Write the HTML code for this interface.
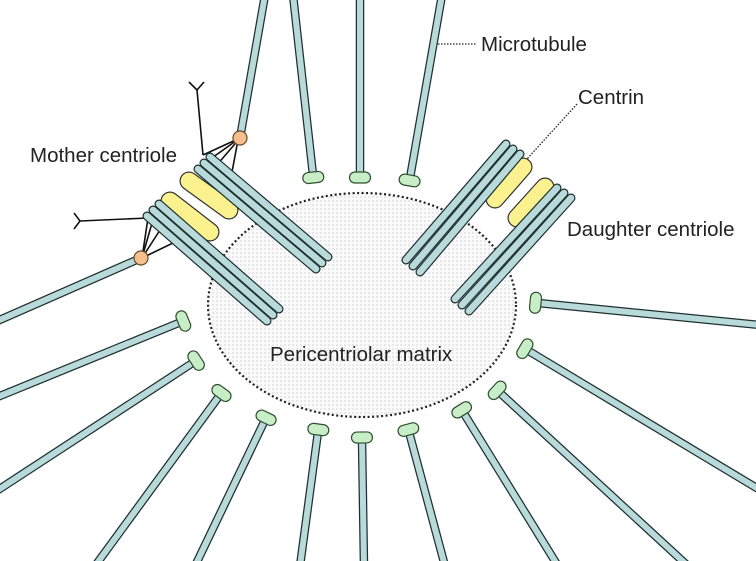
<!DOCTYPE html>
<html><head><meta charset="utf-8"><style>
html,body{margin:0;padding:0;background:#fff;width:756px;height:561px;overflow:hidden}
svg{display:block}
text{font-family:"Liberation Sans",Arial,sans-serif;font-size:20.5px;fill:#222}
</style></head><body>
<svg id="s" width="756" height="561" viewBox="0 0 756 561" xmlns="http://www.w3.org/2000/svg">
<defs>
<pattern id="dots" width="4" height="4" patternUnits="userSpaceOnUse"><rect width="4" height="4" fill="#fafafa"/><circle cx="1" cy="1" r="0.6" fill="#bbb"/></pattern>
</defs>
<ellipse cx="362" cy="305" rx="154" ry="112" fill="url(#dots)" stroke="#222" stroke-width="2.2" stroke-dasharray="2 2.5"/>
<g id="g"></g>
<line x1="438" y1="44" x2="477" y2="44" stroke="#222" stroke-width="1.3" stroke-dasharray="1.5 1.5"/>
<line x1="577" y1="104" x2="527" y2="159" stroke="#222" stroke-width="1.3" stroke-dasharray="1.5 1.5"/>
<text x="481" y="51">Microtubule</text>
<text x="578" y="104">Centrin</text>
<text x="567" y="236">Daughter centriole</text>
<text x="30" y="162">Mother centriole</text>
<text x="270" y="361">Pericentriolar matrix</text>
</svg>
<script>
var g=document.getElementById('g'),h='';
function rod(x1,y1,x2,y2,w){h+='<line x1="'+x1+'" y1="'+y1+'" x2="'+x2+'" y2="'+y2+'" stroke="#1f2f2f" stroke-width="'+(w+2.4)+'" stroke-linecap="round"/><line x1="'+x1+'" y1="'+y1+'" x2="'+x2+'" y2="'+y2+'" stroke="#b8dadb" stroke-width="'+w+'" stroke-linecap="round"/>';}
function mt(x1,y1,x2,y2,cap){
 h+='<line x1="'+x1+'" y1="'+y1+'" x2="'+x2+'" y2="'+y2+'" stroke="#1f2f2f" stroke-width="8.5"/><line x1="'+x1+'" y1="'+y1+'" x2="'+x2+'" y2="'+y2+'" stroke="#b8dadb" stroke-width="6"/>';
 if(cap){var a=Math.atan2(y2-y1,x2-x1)*180/Math.PI;
 h+='<g transform="translate('+x2+','+y2+') rotate('+a+')"><rect x="-3" y="-10.5" width="11" height="21" rx="5.5" fill="#c8eec8" stroke="#2f4f2f" stroke-width="1.2"/></g>';}
}
function yel(x1,y1,x2,y2){h+='<line x1="'+x1+'" y1="'+y1+'" x2="'+x2+'" y2="'+y2+'" stroke="#333" stroke-width="19" stroke-linecap="round"/><line x1="'+x1+'" y1="'+y1+'" x2="'+x2+'" y2="'+y2+'" stroke="#fbf28f" stroke-width="16.6" stroke-linecap="round"/>';}
function ln(x1,y1,x2,y2){h+='<line x1="'+x1+'" y1="'+y1+'" x2="'+x2+'" y2="'+y2+'" stroke="#111" stroke-width="1.6"/>';}
mt(265,-5,240,138,false);
mt(293,-5,313,175,true);
mt(360,-5,360,175,true);
mt(442,-5,410,178,true);
mt(-5,322,141,258,false);
mt(-5,398,181,322,true);
mt(-5,492,194,362,true);
mt(95,566,220,395,true);
mt(195,566,265,420,true);
mt(300,566,318,432,true);
mt(364,566,362,440,true);
mt(445,566,409,432,true);
mt(558,566,463,412,true);
mt(688,566,499,392,true);
mt(760,490,527,350,true);
mt(760,325,538,303,true);
ln(203,155,197,90);ln(197,90,189,82);ln(197,90,204,82);
ln(203,155,240,138);ln(209,160,240,138);ln(216,166,240,138);ln(238,140,232,172);
ln(148,218,80,221);ln(80,221,74,213);ln(80,221,74,229);
ln(148,218,142,258);ln(152,223,142,258);ln(160,230,142,258);ln(142,258,175,242);
h+='<circle cx="240" cy="138" r="7" fill="#f6c08e" stroke="#6a4a2a" stroke-width="1.2"/>';
h+='<circle cx="141" cy="258" r="7" fill="#f6c08e" stroke="#6a4a2a" stroke-width="1.2"/>';
yel(189,181,229,210);
yel(170,201,210,232);
rod(210,157,328,257,6.6);rod(204,163,322,263,6.6);rod(198,169,316,269,6.6);
rod(159,204,279,309,6.6);rod(153,210,273,315,6.6);rod(147,216,267,321,6.6);
yel(523,167,495,199);
yel(545,187,517,218);
rod(506,144,406,260,6.6);rod(513,149,413,266,6.6);rod(520,154,420,272,6.6);
rod(557,188,455,299,6.6);rod(564,193,462,305,6.6);rod(571,198,469,311,6.6);
g.innerHTML=h;
</script>
</body></html>
